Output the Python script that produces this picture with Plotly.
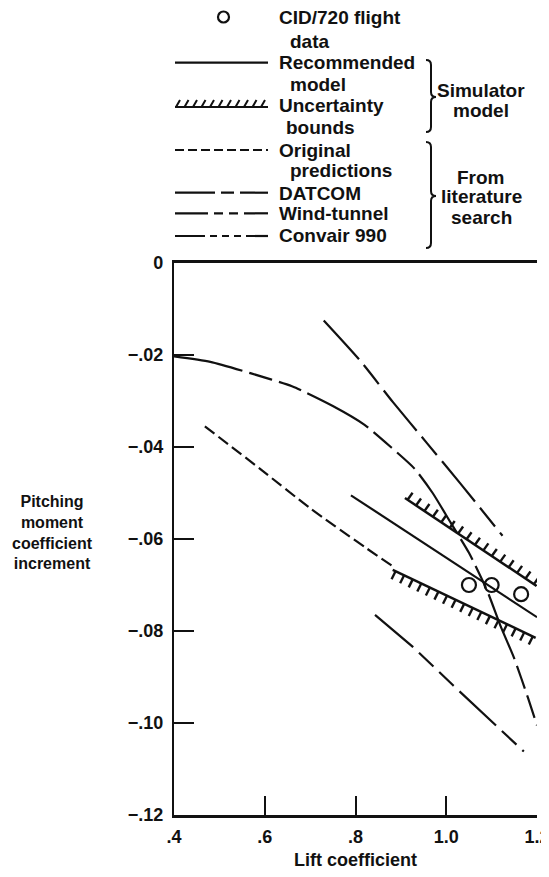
import numpy as np
import plotly.graph_objects as go

# ---------------- data ----------------
flight_cl = [1.05, 1.10, 1.165]
flight_cm = [-0.070, -0.070, -0.072]

recommended_cl = [0.79, 1.20]
recommended_cm = [-0.0505, -0.077]

upper_bound_cl = [0.909, 1.199]
upper_bound_cm = [-0.0511, -0.0702]
lower_bound_cl = [0.882, 1.197]
lower_bound_cm = [-0.0667, -0.0815]

original_cl = [0.468, 0.589, 0.700, 0.824, 0.883]
original_cm = [-0.0355, -0.0447, -0.0533, -0.0620, -0.0660]

datcom_cl = [0.40, 0.48, 0.57, 0.66, 0.75, 0.82, 0.88, 0.93, 0.97, 1.01,
             1.05, 1.09, 1.12, 1.15, 1.18, 1.20]
datcom_cm = [-0.0203, -0.0215, -0.0240, -0.0268, -0.0311, -0.0352, -0.0402,
             -0.0447, -0.0500, -0.0565, -0.0630, -0.0712, -0.0790, -0.0860,
             -0.0945, -0.1005]

windtunnel_cl = [0.730, 0.810, 0.883, 0.957, 1.030, 1.124]
windtunnel_cm = [-0.0125, -0.0212, -0.0303, -0.0391, -0.0478, -0.0593]

convair_cl = [0.843, 0.927, 1.015, 1.103, 1.171]
convair_cm = [-0.0765, -0.0835, -0.0918, -0.1000, -0.1062]

x_tickvals = [0.4, 0.6, 0.8, 1.0, 1.2]
x_ticktext = [".4", ".6", ".8", "1.0", "1.2"]
y_tickvals = [0, -0.02, -0.04, -0.06, -0.08, -0.10, -0.12]
y_ticktext = ["0", "\u2212.02", "\u2212.04", "\u2212.06", "\u2212.08", "\u2212.10", "\u2212.12"]

# ---------------- layout geometry ----------------
PAGE_W, PAGE_H = 549, 877
BODY = 8                      # default page margin around the plot div
W, H = PAGE_W - BODY, PAGE_H - BODY
# plot area in page pixels
PX0, PX1, PY0, PY1 = 174, 537, 263, 815
ML, MT = PX0 - BODY, PY0 - BODY
MR, MB = PAGE_W - PX1, PAGE_H - PY1
PW, PH = PX1 - PX0, PY1 - PY0
X_RANGE = [0.4, 1.2]
Y_RANGE = [-0.12, 0.0]
XS = PW / (X_RANGE[1] - X_RANGE[0])   # px per unit
YS = PH / (Y_RANGE[1] - Y_RANGE[0])

FONT = "Liberation Sans"
BLACK = "#111111"


def px(xp, yp):
    """page pixel position -> paper coordinates"""
    return (xp - PX0) / PW, (PY1 - yp) / PH


def hatch_ticks(xs, ys, spacing_px, dx_px, dy_px):
    """short hatch strokes along a bound line (derived from the bound data)"""
    x0, x1 = xs
    y0, y1 = ys
    n = int((x1 - x0) * XS / spacing_px)
    hx, hy = [], []
    for t in np.linspace(0.02, 0.98, n):
        x = x0 + t * (x1 - x0)
        y = y0 + t * (y1 - y0)
        hx += [x, x + dx_px / XS, None]
        hy += [y, y + dy_px / YS, None]
    return hx, hy


fig = go.Figure()

# literature curves
fig.add_trace(go.Scatter(x=datcom_cl, y=datcom_cm, mode="lines",
                         line=dict(color=BLACK, width=2.2, shape="spline", smoothing=0.6,
                                   dash="70px,7px,24px,7px,24px,7px")))
fig.add_trace(go.Scatter(x=windtunnel_cl, y=windtunnel_cm, mode="lines",
                         line=dict(color=BLACK, width=2.2, shape="spline", smoothing=0.6,
                                   dash="52px,8px,24px,8px")))
fig.add_trace(go.Scatter(x=convair_cl, y=convair_cm, mode="lines",
                         line=dict(color=BLACK, width=2.2, dash="50px,8px,20px,8px,20px,8px")))
fig.add_trace(go.Scatter(x=original_cl, y=original_cm, mode="lines",
                         line=dict(color=BLACK, width=2.2, shape="spline", smoothing=0.6,
                                   dash="12px,5px")))

# simulator model
fig.add_trace(go.Scatter(x=recommended_cl, y=recommended_cm, mode="lines",
                         line=dict(color=BLACK, width=2.2)))
fig.add_trace(go.Scatter(x=upper_bound_cl, y=upper_bound_cm, mode="lines",
                         line=dict(color=BLACK, width=2.5)))
fig.add_trace(go.Scatter(x=lower_bound_cl, y=lower_bound_cm, mode="lines",
                         line=dict(color=BLACK, width=2.5)))
ux, uy = hatch_ticks(upper_bound_cl, upper_bound_cm, 8, 5, 7)
lx, ly = hatch_ticks(lower_bound_cl, lower_bound_cm, 8, -4, -8)
fig.add_trace(go.Scatter(x=ux, y=uy, mode="lines", line=dict(color=BLACK, width=2.4)))
fig.add_trace(go.Scatter(x=lx, y=ly, mode="lines", line=dict(color=BLACK, width=2.4)))

# flight data
fig.add_trace(go.Scatter(x=flight_cl, y=flight_cm, mode="markers",
                         marker=dict(symbol="circle-open", size=14, color=BLACK,
                                     line=dict(width=2.2, color=BLACK))))

# ---------------- legend (drawn) ----------------
shapes = []
annotations = []

# circle sample
cx0, cy0 = px(218, 11.5)
cx1, cy1 = px(229, 22.5)
shapes.append(dict(type="circle", xref="paper", yref="paper", x0=cx0, y0=cy1, x1=cx1, y1=cy0,
                   line=dict(color=BLACK, width=2.2)))

legend_lines = [
    (62.7, "solid"),
    (150, "9px,4px"),
    (192.7, "40px,6px,13px,6px"),
    (213.3, "33px,6px,9px,6px,9px,6px"),
    (236, "30px,5px,7px,5px,7px,5px,7px,5px"),
]
for yy, dash in legend_lines:
    a0, b0 = px(175, yy)
    a1, b1 = px(268, yy)
    shapes.append(dict(type="line", xref="paper", yref="paper", x0=a0, y0=b0, x1=a1, y1=b1,
                       line=dict(color=BLACK, width=2.2, dash=dash)))

# hatched sample
a0, b0 = px(175, 107)
a1, b1 = px(268, 107)
shapes.append(dict(type="line", xref="paper", yref="paper", x0=a0, y0=b0, x1=a1, y1=b1,
                   line=dict(color=BLACK, width=2)))
path = ""
for xx in np.arange(176, 266, 8.5):
    p0 = px(xx, 107)
    p1 = px(xx + 4, 100)
    path += f"M{p0[0]:.5f},{p0[1]:.5f} L{p1[0]:.5f},{p1[1]:.5f} "
shapes.append(dict(type="path", xref="paper", yref="paper", path=path,
                   line=dict(color=BLACK, width=2)))


def brace(xl, top, bot, mid):
    xv, xt = xl + 5, xl + 10
    pts = [("M", [(xl, top)]), ("Q", [(xv, top), (xv, top + 5)]), ("L", [(xv, mid - 5)]),
           ("Q", [(xv, mid), (xt, mid)]), ("Q", [(xv, mid), (xv, mid + 5)]),
           ("L", [(xv, bot - 5)]), ("Q", [(xv, bot), (xl, bot)])]
    s = ""
    for cmd, plist in pts:
        s += cmd + " ".join(f"{px(a, b)[0]:.5f},{px(a, b)[1]:.5f}" for a, b in plist) + " "
    return s


for top, bot, mid in [(60, 132, 97), (142, 248, 196)]:
    shapes.append(dict(type="path", xref="paper", yref="paper", path=brace(426, top, bot, mid),
                       line=dict(color=BLACK, width=2)))

LEG_SIZE = 19
legend_texts = [
    ("CID/720 flight", 278, 17), ("data", 289, 41.5),
    ("Recommended", 278, 62.5), ("model", 289, 85),
    ("Uncertainty", 278, 106), ("bounds", 285, 127),
    ("Original", 278, 150), ("predictions", 289, 171),
    ("DATCOM", 278, 193), ("Wind-tunnel", 278, 213.5), ("Convair 990", 278, 235),
]
for txt, xx, yy in legend_texts:
    a, b = px(xx, yy)
    annotations.append(dict(text=txt, x=a, y=b, xref="paper", yref="paper", xanchor="left",
                            yanchor="middle", showarrow=False, borderpad=0,
                            font=dict(family=FONT, size=LEG_SIZE, weight="bold", color=BLACK)))

group_texts = [("Simulator", 90), ("model", 110), ("From", 177), ("literature", 197), ("search", 217)]
for txt, yy in group_texts:
    a, b = px(481, yy)
    annotations.append(dict(text=txt, x=a, y=b, xref="paper", yref="paper", xanchor="center",
                            yanchor="middle", showarrow=False, borderpad=0,
                            font=dict(family=FONT, size=LEG_SIZE, weight="bold", color=BLACK)))

# axis titles
a, b = px(52, 532.5)
annotations.append(dict(text="Pitching<br>moment<br>coefficient<br>increment", x=a, y=b,
                        xref="paper", yref="paper", xanchor="center", yanchor="middle",
                        align="center", showarrow=False, borderpad=0,
                        font=dict(family=FONT, size=16, weight="bold", color=BLACK)))
a, b = px(355, 860)
annotations.append(dict(text="Lift coefficient", x=a, y=b, xref="paper", yref="paper",
                        xanchor="center", yanchor="middle", showarrow=False,
                        font=dict(family=FONT, size=18, weight="bold", color=BLACK)))

fig.update_layout(
    width=W, height=H,
    margin=dict(l=ML, r=MR, t=MT, b=MB, pad=0, autoexpand=False),
    paper_bgcolor="white", plot_bgcolor="white",
    showlegend=False, hovermode=False,
    shapes=shapes, annotations=annotations,
    xaxis=dict(range=X_RANGE, tickvals=x_tickvals, ticktext=x_ticktext, automargin=False,
               showgrid=False, zeroline=False, showline=True, linewidth=2.5, linecolor=BLACK,
               mirror=True, ticks="inside", ticklen=19, tickwidth=2.2, tickcolor=BLACK,
               ticklabelstandoff=4, ticklabeloverflow="allow",
               tickfont=dict(family=FONT, size=18, weight="bold", color=BLACK)),
    yaxis=dict(range=Y_RANGE, tickvals=y_tickvals, ticktext=y_ticktext, automargin=False,
               showgrid=False, zeroline=False, showline=True, linewidth=2.2, linecolor=BLACK,
               ticks="inside", ticklen=20, tickwidth=2.2, tickcolor=BLACK,
               ticklabelstandoff=5,
               tickfont=dict(family=FONT, size=18, weight="bold", color=BLACK)),
)

fig.write_html("out.html")
